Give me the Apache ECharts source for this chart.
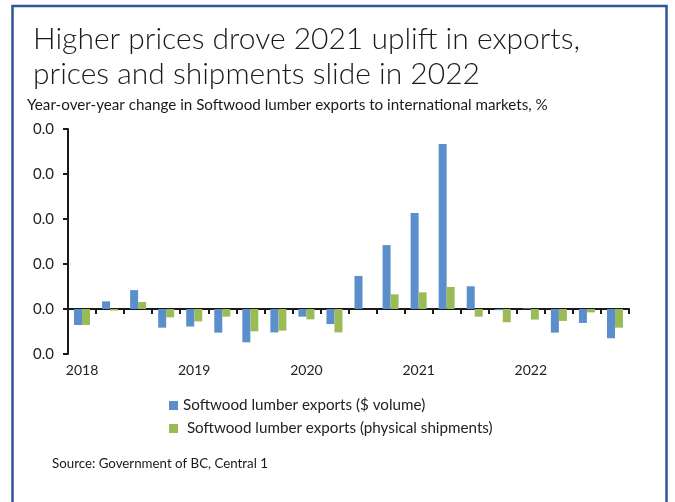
<!DOCTYPE html>
<html>
<head>
<meta charset="utf-8">
<script src="https://cdn.jsdelivr.net/npm/echarts@6/dist/echarts.min.js"></script>
<style>
html,body{margin:0;padding:0;background:#fff;}
#chart{width:675px;height:502px;}
</style>
</head>
<body>
<div id="chart"></div>
<script>
// Data
var categories = ['2018 Q1','2018 Q2','2018 Q3','2018 Q4','2019 Q1','2019 Q2','2019 Q3','2019 Q4','2020 Q1','2020 Q2','2020 Q3','2020 Q4','2021 Q1','2021 Q2','2021 Q3','2021 Q4','2022 Q1','2022 Q2','2022 Q3','2022 Q4'];
var xTickLabels = ['2018','','','','2019','','','','2020','','','','2021','','','','2022','','',''];
var yTickLabels = ['0.0','0.0','0.0','0.0','0.0','0.0'];
var seriesNames = ['Softwood lumber exports ($ volume)', ' Softwood lumber exports (physical shipments)'];
var dollarVolume = [-7.1, 3.4, 8.4, -8.3, -7.8, -10.5, -14.8, -10.4, -3.4, -6.7, 14.7, 28.4, 42.7, 73.3, 10.1, -0.5, 0.3, -10.5, -6.2, -13.0];
var physicalShipments = [-7.1, -0.7, 3.1, -3.7, -5.5, -3.4, -9.9, -9.6, -4.6, -10.4, 0, 6.5, 7.4, 9.8, -3.4, -5.9, -4.7, -5.3, -1.5, -8.3];

var FONT = 'Lato, "Open Sans", sans-serif';
var chart = echarts.init(document.getElementById('chart'), null, {renderer:'canvas'});
chart.setOption({
  backgroundColor:'#ffffff',
  animation:false,
  color:['#5B8FCB','#9BBB59'],
  grid:{left:68, right:46, top:129, bottom:148, containLabel:false},
  legend:{
    orient:'vertical', left:164, top:393,
    itemWidth:9, itemHeight:9, itemGap:8,
    icon:'rect',
    textStyle:{fontFamily:FONT, fontSize:15.2, color:'#222'},
    data:seriesNames
  },
  xAxis:{
    type:'category', data:categories,
    axisLine:{onZero:true, lineStyle:{color:'#1a1a1a', width:2}},
    axisTick:{show:true, interval:0, length:5, lineStyle:{color:'#1a1a1a', width:2}},
    axisLabel:{interval:0, margin:9, fontFamily:FONT, fontSize:14, color:'#222',
      formatter:function(v, i){ return xTickLabels[i]; }},
    splitLine:{show:false}
  },
  yAxis:{
    type:'value', min:-20, max:80, interval:20,
    axisLine:{show:true, lineStyle:{color:'#1a1a1a', width:2}},
    axisTick:{show:true, length:5, lineStyle:{color:'#1a1a1a', width:2}},
    axisLabel:{margin:14, fontFamily:FONT, fontSize:15, color:'#222',
      formatter:function(v, i){ return yTickLabels[i]; }},
    splitLine:{show:false}
  },
  series:[
    {name:seriesNames[0], type:'bar', data:dollarVolume, barWidth:8, barGap:'0%'},
    {name:seriesNames[1], type:'bar', data:physicalShipments, barWidth:8, barGap:'0%'}
  ],
  graphic:[
    {type:'rect', shape:{x:12.5, y:6, width:654, height:520}, style:{fill:'none', stroke:'#2B5797', lineWidth:2.5}, silent:true},
    {type:'text', left:33, top:24, style:{text:'Higher prices drove 2021 uplift in exports,', font:'300 30px ' + FONT, fill:'#1a1a1a'}},
    {type:'text', left:33, top:59, style:{text:'prices and shipments slide in 2022', font:'300 30px ' + FONT, fill:'#1a1a1a'}},
    {type:'text', left:27, top:98, style:{text:'Year-over-year change in Softwood lumber exports to international markets, %', font:'15.2px ' + FONT, fill:'#1a1a1a'}},
    {type:'text', left:52, top:457, style:{text:'Source: Government of BC, Central 1', font:'13.3px ' + FONT, fill:'#1a1a1a'}}
  ]
});
</script>
</body>
</html>
